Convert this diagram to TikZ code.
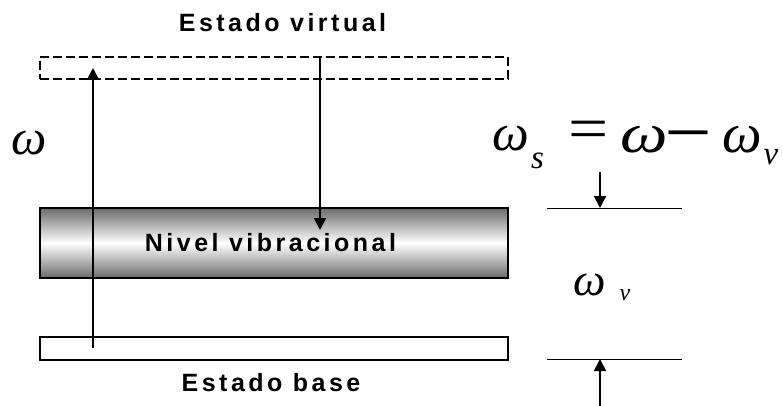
\documentclass[tikz,border=0pt]{standalone}
\usepackage{fontspec}
\setmainfont{Liberation Sans}
\newfontfamily\lblfont{Liberation Sans}[LetterSpace=14]
\newfontfamily\symit{Liberation Serif}
\usetikzlibrary{arrows.meta}
\begin{document}
\begin{tikzpicture}[x=1pt,y=-1pt,
  level/.style={draw=black, line width=2pt, minimum width=468pt, inner sep=0pt, outer sep=0pt},
  lbl/.style={inner sep=0pt, font=\lblfont\bfseries\fontsize{25}{26}\selectfont},
  arr/.style={line width=2pt, -{Triangle[length=12pt,width=12pt]}},
  thin/.style={line width=1pt},
  sym/.style={inner sep=0pt}
]
\useasboundingbox (0,0) rectangle (783,406);
% levels
\node[level, dash pattern=on 9pt off 4pt, minimum height=22pt] (virt) at (274,68.5) {};
\node[level, minimum height=70pt, top color=black!58, bottom color=black!58, middle color=white] (vib) at (274,243) {};
\node[level, minimum height=23pt] (base) at (274,348.5) {};
% labels
\node[lbl] (tvirt) at (282.5,23) {Estado virtual};
\node[lbl] (tvib) at (270.5,242.5) {Nivel vibracional};
\node[lbl] (tbase) at (271,382.5) {Estado base};
% arrows
\coordinate (u1) at (93,348);
\coordinate (u2) at (93,68);
\draw[arr] (u1) -- (u2);
\coordinate (d1) at (320,57);
\coordinate (d2) at (320,230);
\draw[arr] (d1) -- (d2);
% right side lines
\coordinate (l1a) at (547,208); \coordinate (l1b) at (682,208);
\coordinate (l2a) at (547,359); \coordinate (l2b) at (682,359);
\draw[thin] (l1a) -- (l1b);
\draw[thin] (l2a) -- (l2b);
\coordinate (ra) at (600,172); \coordinate (rb) at (600,208);
\coordinate (rc) at (600,406); \coordinate (rd) at (600,359);
\draw[arr] (ra) -- (rb);
\draw[arr] (rc) -- (rd);
% omega left
\node[sym, font=\symit\itshape\fontsize{50}{50}\selectfont] (wl) at (29,143.5) {ω};
% equation
\node[sym, font=\symit\itshape\fontsize{52}{52}\selectfont] (ws) at (510.5,138.5) {ω};
\node[sym, font=\symit\itshape\fontsize{33}{33}\selectfont] (s) at (537.5,160.5) {s};
\node[sym, transform shape, xscale=1.15, font=\symit\fontsize{62}{62}\selectfont] (eq) at (588.5,135.5) {=};
\node[sym, transform shape, xscale=1.2, font=\symit\itshape\fontsize{56}{56}\selectfont] (wm) at (644,140) {ω};
\node[sym, anchor=base, font=\symit\fontsize{76}{76}\selectfont] (minus) at (688.5,150) {–};
\node[sym, font=\symit\itshape\fontsize{56}{56}\selectfont] (wr) at (742.5,140) {ω};
\node[sym, font=\symit\itshape\fontsize{33}{33}\selectfont] (nu) at (771,157.5) {ν};
% omega_nu
\node[sym, font=\symit\itshape\fontsize{46}{46}\selectfont] (wv) at (590,285) {ω};
\node[sym, font=\symit\itshape\fontsize{24}{24}\selectfont] (nv) at (625,295) {ν};
\end{tikzpicture}
\end{document}
